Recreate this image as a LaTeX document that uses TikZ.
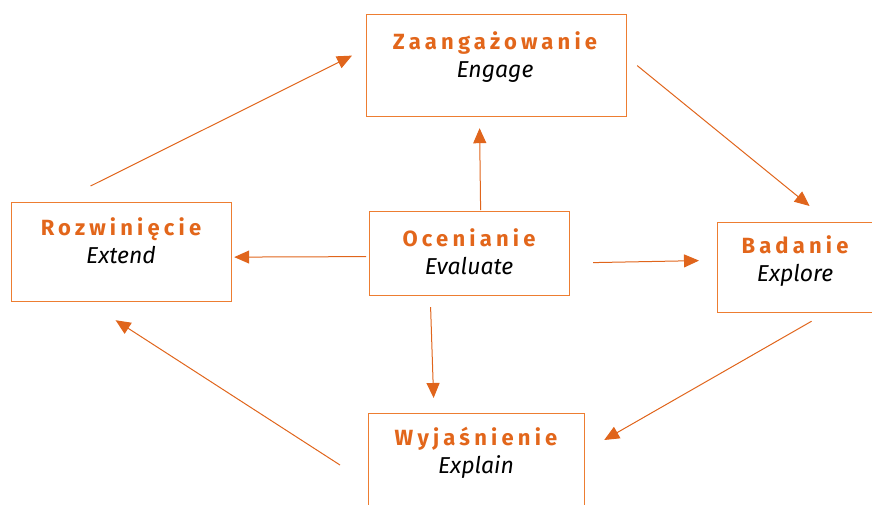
\documentclass[tikz,border=0pt]{standalone}
\usepackage{fontspec}
\setmainfont{Fira Sans}
\newfontfamily\ttlfont[LetterSpace=19]{Fira Sans}
\usetikzlibrary{arrows.meta, positioning}

\definecolor{boxline}{HTML}{ED7D31}
\definecolor{ttlorange}{HTML}{E2661B}
\definecolor{arrorange}{HTML}{E0651C}

\newcommand{\stage}[2]{{\fontsize{22}{26}\ttlfont\bfseries\color{ttlorange}#1}\\[2pt]{\itshape #2}}

\begin{document}
\begin{tikzpicture}[x=1pt, y=-1pt,
    phase/.style={rectangle, draw=boxline, line width=1.2pt, align=center, anchor=north west,
        inner sep=0pt},
    lbl/.style={align=center, font=\fontsize{23}{26}\selectfont},
    arr/.style={draw=arrorange, line width=1pt, -{Triangle[length=15pt, width=13pt]}, arrorange}]
    \useasboundingbox (0,0) rectangle (872,504);

    % Boxes of the cycle
    \node[phase, minimum width=260pt, minimum height=102pt] (engage) at (366,14) {};
    \node[phase, minimum width=220pt, minimum height=99pt] (extend) at (11,202) {};
    \node[phase, minimum width=200pt, minimum height=84pt] (evaluate) at (369,211) {};
    \node[phase, minimum width=160pt, minimum height=90pt] (explore) at (717,222) {};
    \node[phase, minimum width=216pt, minimum height=100pt] (explain) at (368,413) {};

    % Texts
    \node[lbl] (engage-t) at (495,57) {\stage{Zaangażowanie}{Engage}};
    \node[lbl] (extend-t) at (121,241) {\stage{Rozwinięcie}{Extend}};
    \node[lbl] (evaluate-t) at (469,252) {\stage{Ocenianie}{Evaluate}};
    \node[lbl] (explore-t) at (795,261) {\stage{Badanie}{Explore}};
    \node[lbl] (explain-t) at (476,453) {\stage{Wyjaśnienie}{Explain}};

    % Outer cycle
    \draw[arr] ([shift={(-31,-16)}]extend.north) -- ([shift={(-14,-10)}]engage.west);
    \draw[arr] ([shift={(10,0)}]engage.east) -- ([shift={(12,-16)}]explore.north);
    \draw[arr] ([shift={(14,8)}]explore.south) -- ([shift={(19,27)}]explain.north east);
    \draw[arr] ([shift={(-28,52)}]explain.north west) -- ([shift={(-6,18)}]extend.south);

    % From the centre
    \draw[arr] ([shift={(11,-1)}]evaluate.north) -- ([shift={(-17,11)}]engage.south);
    \draw[arr] ([shift={(-3,3)}]evaluate.west) -- ([shift={(2,5)}]extend.east);
    \draw[arr] ([shift={(23,9)}]evaluate.east) -- ([shift={(-18,-7)}]explore.west);
    \draw[arr] ([shift={(-39,11)}]evaluate.south) -- ([shift={(-43,-15)}]explain.north);
\end{tikzpicture}
\end{document}
